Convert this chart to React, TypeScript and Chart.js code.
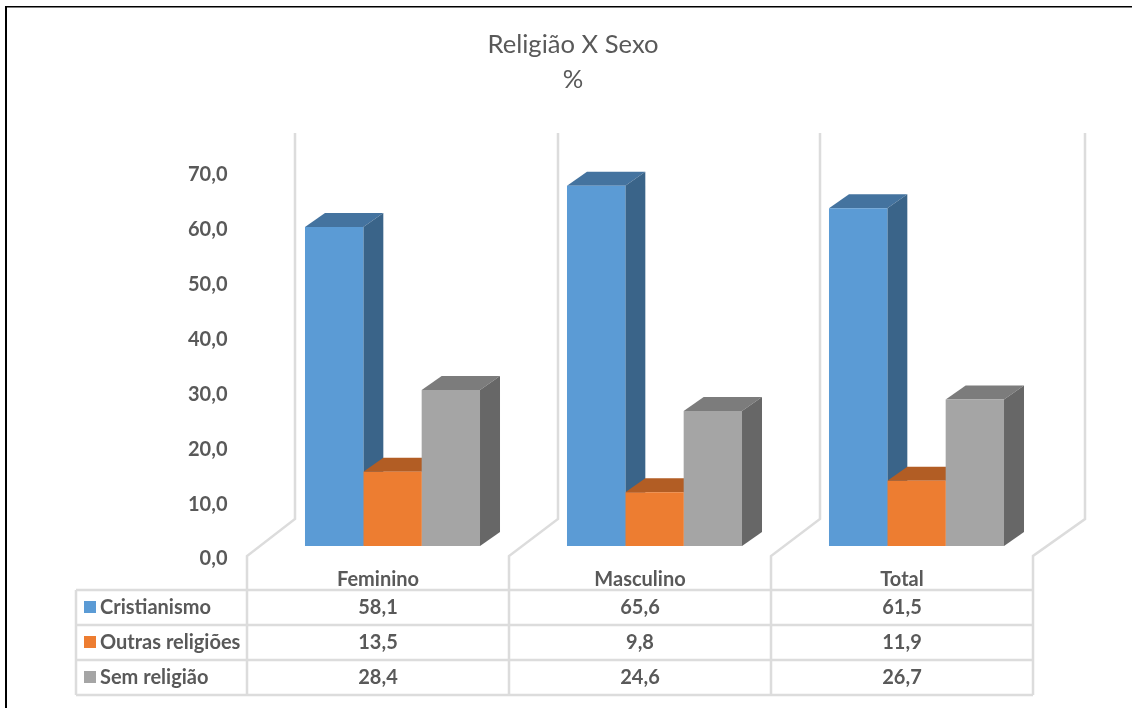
import React, { useEffect, useRef } from "react";
import { Chart, registerables } from "chart.js";

Chart.register(...registerables);

const titleLines = ["Religião X Sexo", "%"];
const categories = ["Feminino", "Masculino", "Total"];
const cristianismo = [58.1, 65.6, 61.5];
const outras = [13.5, 9.8, 11.9];
const semReligiao = [28.4, 24.6, 26.7];
const seriesNames = ["Cristianismo", "Outras religiões", "Sem religião"];
const frontColors = ["#5B9BD5", "#ED7D31", "#A5A5A5"];
const topColors = ["#44739F", "#B25D24", "#7C7C7C"];
const sideColors = ["#3A6489", "#9C5220", "#676767"];
const seriesValues = [cristianismo, outras, semReligiao];

const fmt = (v: number) => v.toFixed(1).replace(".", ",");
const FONT = "Lato, Carlito, 'Open Sans', sans-serif";
const TEXT = "#595959";
const LINE = "#DCDCDC";

const DX = 20;
const DY = -14;

const decor = {
  id: "decor",
  beforeDraw(chart: any) {
    const c = chart.ctx;
    c.save();
    c.fillStyle = "#fff";
    c.fillRect(0, 0, chart.width, chart.height);
    c.fillStyle = "#000";
    c.fillRect(5, 6, 2, chart.height - 6);
    c.fillRect(5, 6, chart.width - 5, 1.5);

    // Walls and floor
    c.strokeStyle = LINE;
    c.lineWidth = 2.5;
    const cols = [247, 509, 771, 1033];
    const walls = [295, 558, 820, 1085];
    walls.forEach((wx, i) => {
      c.beginPath();
      c.moveTo(wx, 133);
      c.lineTo(wx, 519);
      c.lineTo(cols[i], 556);
      c.lineTo(cols[i], 695);
      c.stroke();
    });

    // Table grid
    c.beginPath();
    [590, 625, 660, 695].forEach((y) => {
      c.moveTo(76, y);
      c.lineTo(1033, y);
    });
    c.moveTo(76, 590);
    c.lineTo(76, 695);
    c.stroke();

    // Table text
    c.textBaseline = "middle";
    seriesNames.forEach((name, r) => {
      const y = 608 + r * 35;
      c.fillStyle = frontColors[r];
      c.fillRect(84, y - 7, 12, 12);
      c.fillStyle = TEXT;
      c.font = `bold 20px ${FONT}`;
      c.textAlign = "left";
      c.fillText(name, 100, y);
      c.textAlign = "center";
      seriesValues[r].forEach((v, k) => {
        c.fillText(fmt(v), 378 + k * 262, y);
      });
    });
    c.restore();
  },
  beforeDatasetsDraw(chart: any) {
    const c = chart.ctx;
    c.save();
    chart.data.datasets.forEach((_: any, d: number) => {
      chart.getDatasetMeta(d).data.forEach((bar: any) => {
        const l = bar.x - bar.width / 2;
        const r = bar.x + bar.width / 2;
        const t = bar.y;
        const b = bar.base;
        c.fillStyle = topColors[d];
        c.beginPath();
        c.moveTo(l, t);
        c.lineTo(l + DX, t + DY);
        c.lineTo(r + DX, t + DY);
        c.lineTo(r, t);
        c.closePath();
        c.fill();
        c.fillStyle = sideColors[d];
        c.beginPath();
        c.moveTo(r, t);
        c.lineTo(r + DX, t + DY);
        c.lineTo(r + DX, b + DY);
        c.lineTo(r, b);
        c.closePath();
        c.fill();
      });
    });
    c.restore();
  },
};

export default function App() {
  const ref = useRef<HTMLCanvasElement>(null);
  useEffect(() => {
    const chart = new Chart(ref.current!, {
      type: "bar",
      data: {
        labels: categories,
        datasets: seriesNames.map((label, i) => ({
          label,
          data: seriesValues[i],
          backgroundColor: frontColors[i],
          categoryPercentage: 0.668,
          barPercentage: 1,
        })),
      },
      options: {
        animation: false,
        responsive: false,
        devicePixelRatio: 1,
        layout: { padding: { left: 98.5, right: 84.5, top: 0, bottom: 0 } },
        plugins: {
          legend: { display: false },
          tooltip: { enabled: false },
          title: {
            display: true,
            text: titleLines,
            color: TEXT,
            font: { family: FONT, size: 25.6, weight: "normal", lineHeight: 1.37 },
            padding: { top: 27.5, bottom: 64 },
          },
        },
        scales: {
          x: {
            grid: { display: false },
            border: { display: false },
            afterFit: (s: any) => {
              s.height = 162;
            },
            ticks: {
              color: TEXT,
              font: { family: FONT, size: 20, weight: "bold" },
              padding: 14,
              labelOffset: -14.5,
              maxRotation: 0,
            },
          },
          y: {
            min: 0,
            max: 70,
            grid: { display: false },
            border: { display: false },
            afterFit: (s: any) => {
              s.width = 163;
            },
            ticks: {
              stepSize: 10,
              color: TEXT,
              font: { family: FONT, size: 20, weight: "bold" },
              padding: 26,
              labelOffset: 13,
              callback: (v: any) => fmt(Number(v)),
            },
          },
        },
      },
      plugins: [decor],
    } as any);
    return () => chart.destroy();
  }, []);
  return (
    <canvas
      ref={ref}
      width={1132}
      height={708}
      style={{ position: "fixed", left: 0, top: 0, display: "block" }}
    />
  );
}
